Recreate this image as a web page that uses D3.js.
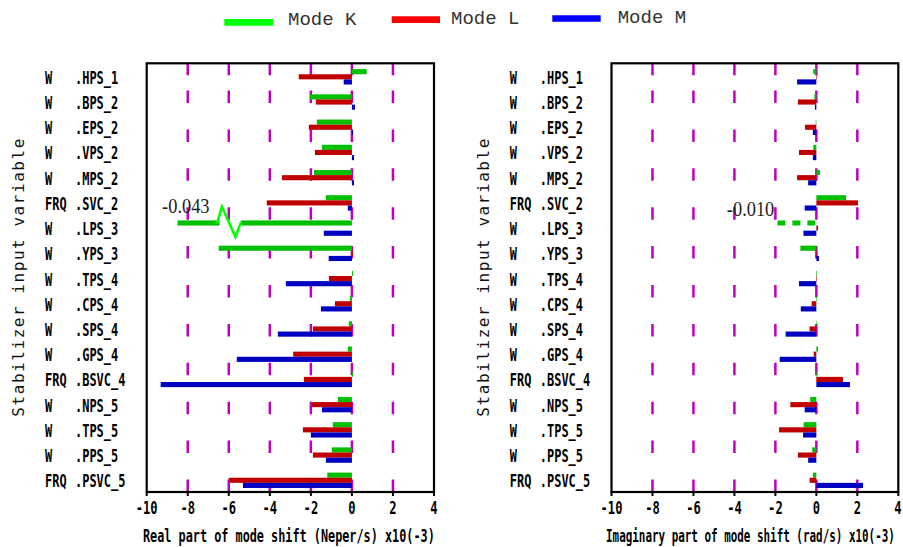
<!DOCTYPE html>
<html><head><meta charset="utf-8">
<script src="https://cdn.jsdelivr.net/npm/d3@7"></script>
<style>body{margin:0;background:#fff}svg{display:block}</style>
</head><body>
<svg id="c" width="903" height="547"></svg>
<script>
// ---------------- data ----------------
const prefixes = ["W","W","W","W","W","FRQ","W","W","W","W","W","W","FRQ","W","W","W","FRQ"];
const names = [".HPS_1",".BPS_2",".EPS_2",".VPS_2",".MPS_2",".SVC_2",".LPS_3",".YPS_3",".TPS_4",".CPS_4",".SPS_4",".GPS_4",".BSVC_4",".NPS_5",".TPS_5",".PPS_5",".PSVC_5"];
const seriesNames = ["Mode K","Mode L","Mode M"];
// real part of mode shift (x10^-3 Neper/s)
const realK = [0.72,-2.05,-1.71,-1.46,-1.85,-1.27,-43,-6.49,0.05,-0.1,-0.15,-0.2,0.05,-0.68,-0.93,-0.98,-1.2];
const realL = [-2.59,-1.76,-2.1,-1.8,-3.41,-4.15,0,0.05,-1.12,-0.83,-1.9,-2.86,-2.34,-1.95,-2.39,-1.9,-6.0];
const realM = [-0.4,0.15,0.05,0.1,0.1,-0.2,-1.37,-1.13,-3.22,-1.51,-3.61,-5.61,-9.32,-1.46,-2.0,-1.27,-5.31];
// imaginary part of mode shift (x10^-3 rad/s)
const imagK = [-0.15,-0.1,-0.03,-0.15,0.18,1.45,-10,-0.78,0.03,0.03,0.03,0.08,0.03,-0.3,-0.62,-0.2,-0.17];
const imagL = [0.03,-0.9,-0.55,-0.85,-0.94,2.03,0.08,0.03,0.03,-0.23,-0.33,-0.13,1.3,-1.27,-1.82,-0.9,-0.33];
const imagM = [-0.94,-0.07,-0.17,-0.17,-0.4,-0.57,-0.63,0.13,-0.85,-0.76,-1.5,-1.79,1.64,-0.57,-0.65,-0.4,2.28];
const xTicks = [-10,-8,-6,-4,-2,0,2,4];
const gridTicks = [-8,-6,-4,-2,0,2];
const xTitles = ["Real part of mode shift (Neper/s)  x10(-3)", "Imaginary part of mode shift (rad/s)  x10(-3)"];
const yTitle = "Stabilizer input variable";

// ---------------- styles ----------------
const barColors = ["#00c000","#c00000","#0000c0"];
const legendColors = ["#00ff00","#ff0000","#0000ff"];
const gridColor = "#c000c0";
const mono = "'DejaVu Sans Mono', monospace";

const svg = d3.select("#c");

// squeeze a text horizontally to a target width
function squeeze(sel, x, y, w, anchor) {
  sel.attr("x",0).attr("y",0).attr("text-anchor",anchor||"start");
  const nat = sel.node().getComputedTextLength();
  sel.attr("transform",`translate(${x},${y}) scale(${w/nat},1)`);
  return sel;
}

// legend
const legendPos = [
  {x1:224.3, x2:273.3, ly:22.3, tx:288, ty:25},
  {x1:391.7, x2:440, ly:19.7, tx:451, ty:24},
  {x1:552.3, x2:600.7, ly:18.5, tx:617.7, ty:22.7}
];
seriesNames.forEach((s,i)=>{
  const p = legendPos[i];
  svg.append("line").attr("x1",p.x1).attr("x2",p.x2).attr("y1",p.ly).attr("y2",p.ly)
    .attr("stroke",legendColors[i]).attr("stroke-width",6.7);
  svg.append("text").attr("x",p.tx).attr("y",p.ty).text(s)
    .attr("font-family","'Liberation Mono', monospace").attr("font-size",19).attr("fill","#333");
});

const panels = [
  {x0:146.7, x1:434, data:[realK,realL,realM], title:xTitles[0], titleX:143, titleLen:292,
   overflow:{style:"zigzag", series:0, display:-8.5, gapFrom:-6.45, gapTo:-5.4, labelX:-9.25, labelDy:-7.2}},
  {x0:611.5, x1:898.3, data:[imagK,imagL,imagM], title:xTitles[1], titleX:606, titleLen:289,
   overflow:{style:"dashed", series:0, display:-1.9, labelX:-4.37, labelDy:-4.6}}
];
const yTop = 63.3, yBot = 492;
const y = d3.scaleBand().domain(d3.range(names.length)).range([yTop, yBot]);
const sub = d3.scaleBand().domain([0,1,2]).range([-6.8, 8.6]);

panels.forEach(P=>{
  const x = d3.scaleLinear().domain([-10,4]).range([P.x0, P.x1]);
  const g = svg.append("g");
  // grid lines: dashed from bottom plus top dash
  gridTicks.forEach(t=>{
    g.append("line").attr("x1",x(t)).attr("x2",x(t)).attr("y1",yBot).attr("y2",yTop)
      .attr("stroke",gridColor).attr("stroke-width",2.5).attr("stroke-dasharray","12.5 26.4");
    g.append("line").attr("x1",x(t)).attr("x2",x(t)).attr("y1",yTop).attr("y2",yTop+12)
      .attr("stroke",gridColor).attr("stroke-width",2.5);
  });
  // bars
  P.data.forEach((vals,si)=>{
    vals.forEach((v,i)=>{
      const yc = y(i) + y.bandwidth()/2;
      const y0 = yc + sub(si), h = sub.bandwidth();
      const ov = P.overflow;
      if (v <= -10 && ov.series===si) {
        if (ov.style==="zigzag") {
          g.append("rect").attr("x",x(ov.display)).attr("y",y0).attr("width",x(ov.gapFrom)-x(ov.display)).attr("height",h).attr("fill",barColors[si]);
          g.append("rect").attr("x",x(ov.gapTo)).attr("y",y0).attr("width",x(0)-x(ov.gapTo)).attr("height",h).attr("fill",barColors[si]);
          const yb = y0 + h/2;
          const pts = [[x(ov.gapFrom)-2.6, yb+0.4],[x(ov.gapFrom)+2.4, yb-16.2],[x(ov.gapTo)-5.7, yb+13.8],[x(ov.gapTo)+0.2, yb-1.2]];
          g.append("polyline").attr("points",pts.map(p=>p.join(",")).join(" "))
            .attr("fill","none").attr("stroke",legendColors[si]).attr("stroke-width",2.6).attr("stroke-linejoin","miter");
        } else {
          g.append("line").attr("x1",x(0)-1).attr("x2",x(ov.display)).attr("y1",y0+h/2).attr("y2",y0+h/2)
            .attr("stroke",barColors[si]).attr("stroke-width",h).attr("stroke-dasharray","8 7");
        }
        const t = g.append("text").attr("font-family","'Liberation Serif', serif").attr("font-size",21)
          .attr("fill","#222").text((v/1000).toFixed(3));
        squeeze(t, x(ov.labelX), y0+ov.labelDy, 47.5, "start");
        return;
      }
      g.append("rect").attr("x",x(Math.min(0,v))).attr("y",y0)
        .attr("width",Math.abs(x(v)-x(0))).attr("height",h).attr("fill",barColors[si]);
    });
  });
  // frame
  g.append("rect").attr("x",P.x0).attr("y",yTop).attr("width",P.x1-P.x0).attr("height",yBot-yTop)
    .attr("fill","none").attr("stroke","#000").attr("stroke-width",2.2);
  // bottom ticks + labels
  xTicks.forEach(t=>{
    g.append("line").attr("x1",x(t)).attr("x2",x(t)).attr("y1",yBot).attr("y2",yBot+4)
      .attr("stroke","#000").attr("stroke-width",2);
    const lab = String(t);
    const tx = g.append("text").attr("font-family",mono).attr("font-size",17).attr("font-weight","bold").text(lab);
    const cx = Math.min(x(t), 903 - lab.length*3.65 - 1.5);
    squeeze(tx, cx, 513.5, lab.length*7.3, "middle");
  });
  // row labels
  names.forEach((n,i)=>{
    const yc = y(i) + y.bandwidth()/2;
    const a = g.append("text").attr("font-family",mono).attr("font-size",18).attr("font-weight","bold").text(prefixes[i]);
    squeeze(a, P.x0-101.7, yc+7.9, prefixes[i].length*7.2, "start");
    const b = g.append("text").attr("font-family",mono).attr("font-size",18).attr("font-weight","bold").text(n);
    squeeze(b, P.x0-71.7, yc+7.9, n.length*7.2, "start");
  });
  // x title
  const xt = g.append("text").attr("font-family",mono).attr("font-size",18).attr("font-weight","bold").text(P.title);
  squeeze(xt, P.titleX, 542, P.titleLen, "start");
  // y title
  g.append("text").attr("transform",`translate(${P.x0-122.5},${(yTop+yBot)/2}) rotate(-90)`)
    .attr("text-anchor","middle").attr("font-family",mono).attr("font-size",16)
    .attr("textLength",278).attr("lengthAdjust","spacing").attr("fill","#111").text(yTitle);
});
</script>
</body></html>
